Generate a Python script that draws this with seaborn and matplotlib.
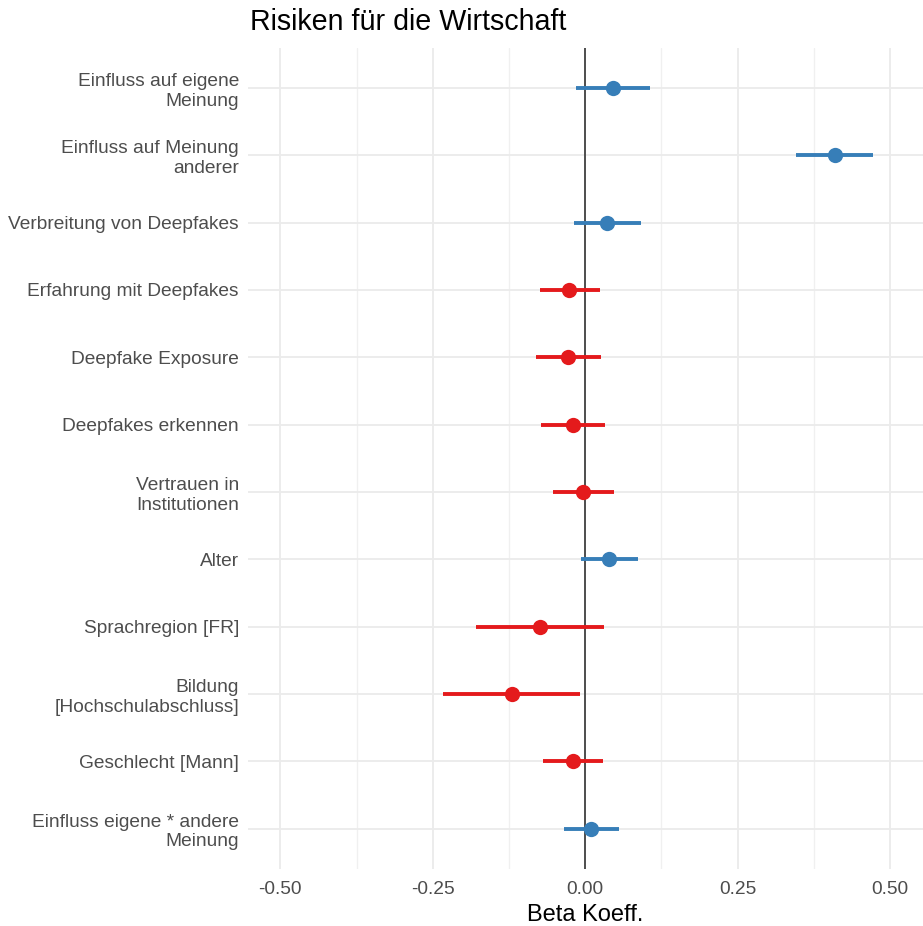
import numpy as np
import pandas as pd
import seaborn as sns
import matplotlib.pyplot as plt

terms = ['Einfluss auf eigene\nMeinung', 'Einfluss auf Meinung\nanderer', 'Verbreitung von Deepfakes',
         'Erfahrung mit Deepfakes', 'Deepfake Exposure', 'Deepfakes erkennen',
         'Vertrauen in\nInstitutionen', 'Alter', 'Sprachregion [FR]',
         'Bildung\n[Hochschulabschluss]', 'Geschlecht [Mann]', 'Einfluss eigene * andere\nMeinung']
estimate = [0.046, 0.410, 0.036, -0.026, -0.028, -0.020, -0.003, 0.039, -0.074, -0.120, -0.020, 0.010]
ci_low = [-0.015, 0.346, -0.018, -0.074, -0.080, -0.072, -0.052, -0.007, -0.179, -0.233, -0.069, -0.034]
ci_high = [0.107, 0.472, 0.092, 0.025, 0.026, 0.033, 0.048, 0.087, 0.031, -0.008, 0.030, 0.056]
xticks = [-0.50, -0.25, 0.00, 0.25, 0.50]

df = pd.DataFrame({'term': terms, 'est': estimate, 'lo': ci_low, 'hi': ci_high})
df['sign'] = np.where(df['est'] >= 0, 'pos', 'neg')
pal = {'pos': '#377EB8', 'neg': '#E41A1C'}

sns.set_style('whitegrid')
plt.rcParams['font.family'] = ['Liberation Sans', 'DejaVu Sans']

fig = plt.figure(figsize=(9.23, 9.26), dpi=100)
ax = fig.add_axes([0.2687, 0.0616, 0.7313, 0.887])

ypos = np.arange(len(df))
ax.hlines(ypos, df['lo'], df['hi'], colors=df['sign'].map(pal), lw=2.8, zorder=3)
sns.stripplot(data=df, x='est', y='term', hue='sign', palette=pal, jitter=False,
              size=11, linewidth=0, legend=False, ax=ax, zorder=4)
ax.axvline(0, color='#4D4D4D', lw=1.4, zorder=2)

ax.set_xlim(-0.553, 0.554)
ax.set_ylim(len(df) - 0.4, -0.6)
ax.set_xticks(xticks)
ax.set_xticklabels([f'{t:.2f}' for t in xticks])
ax.set_xticks([-0.375, -0.125, 0.125, 0.375], minor=True)
ax.grid(True, which='major', color='#EBEBEB', lw=1.3)
ax.grid(True, which='minor', axis='x', color='#F0F0F0', lw=1.0)
for s in ax.spines.values():
    s.set_visible(False)
ax.tick_params(axis='both', which='both', length=0, labelsize=13.8, labelcolor='#4D4D4D')
ax.tick_params(axis='y', pad=6.5)
ax.tick_params(axis='x', pad=9)
for lab in ax.get_yticklabels():
    lab.set_multialignment('right')
ax.set_ylabel('')
ax.set_xlabel('Beta Koeff.', fontsize=17, color='black', labelpad=4)
fig.text(0.271, 0.976, 'Risiken für die Wirtschaft', fontsize=20.6, color='black', va='center', ha='left')

fig.savefig('out.png', dpi=100)
